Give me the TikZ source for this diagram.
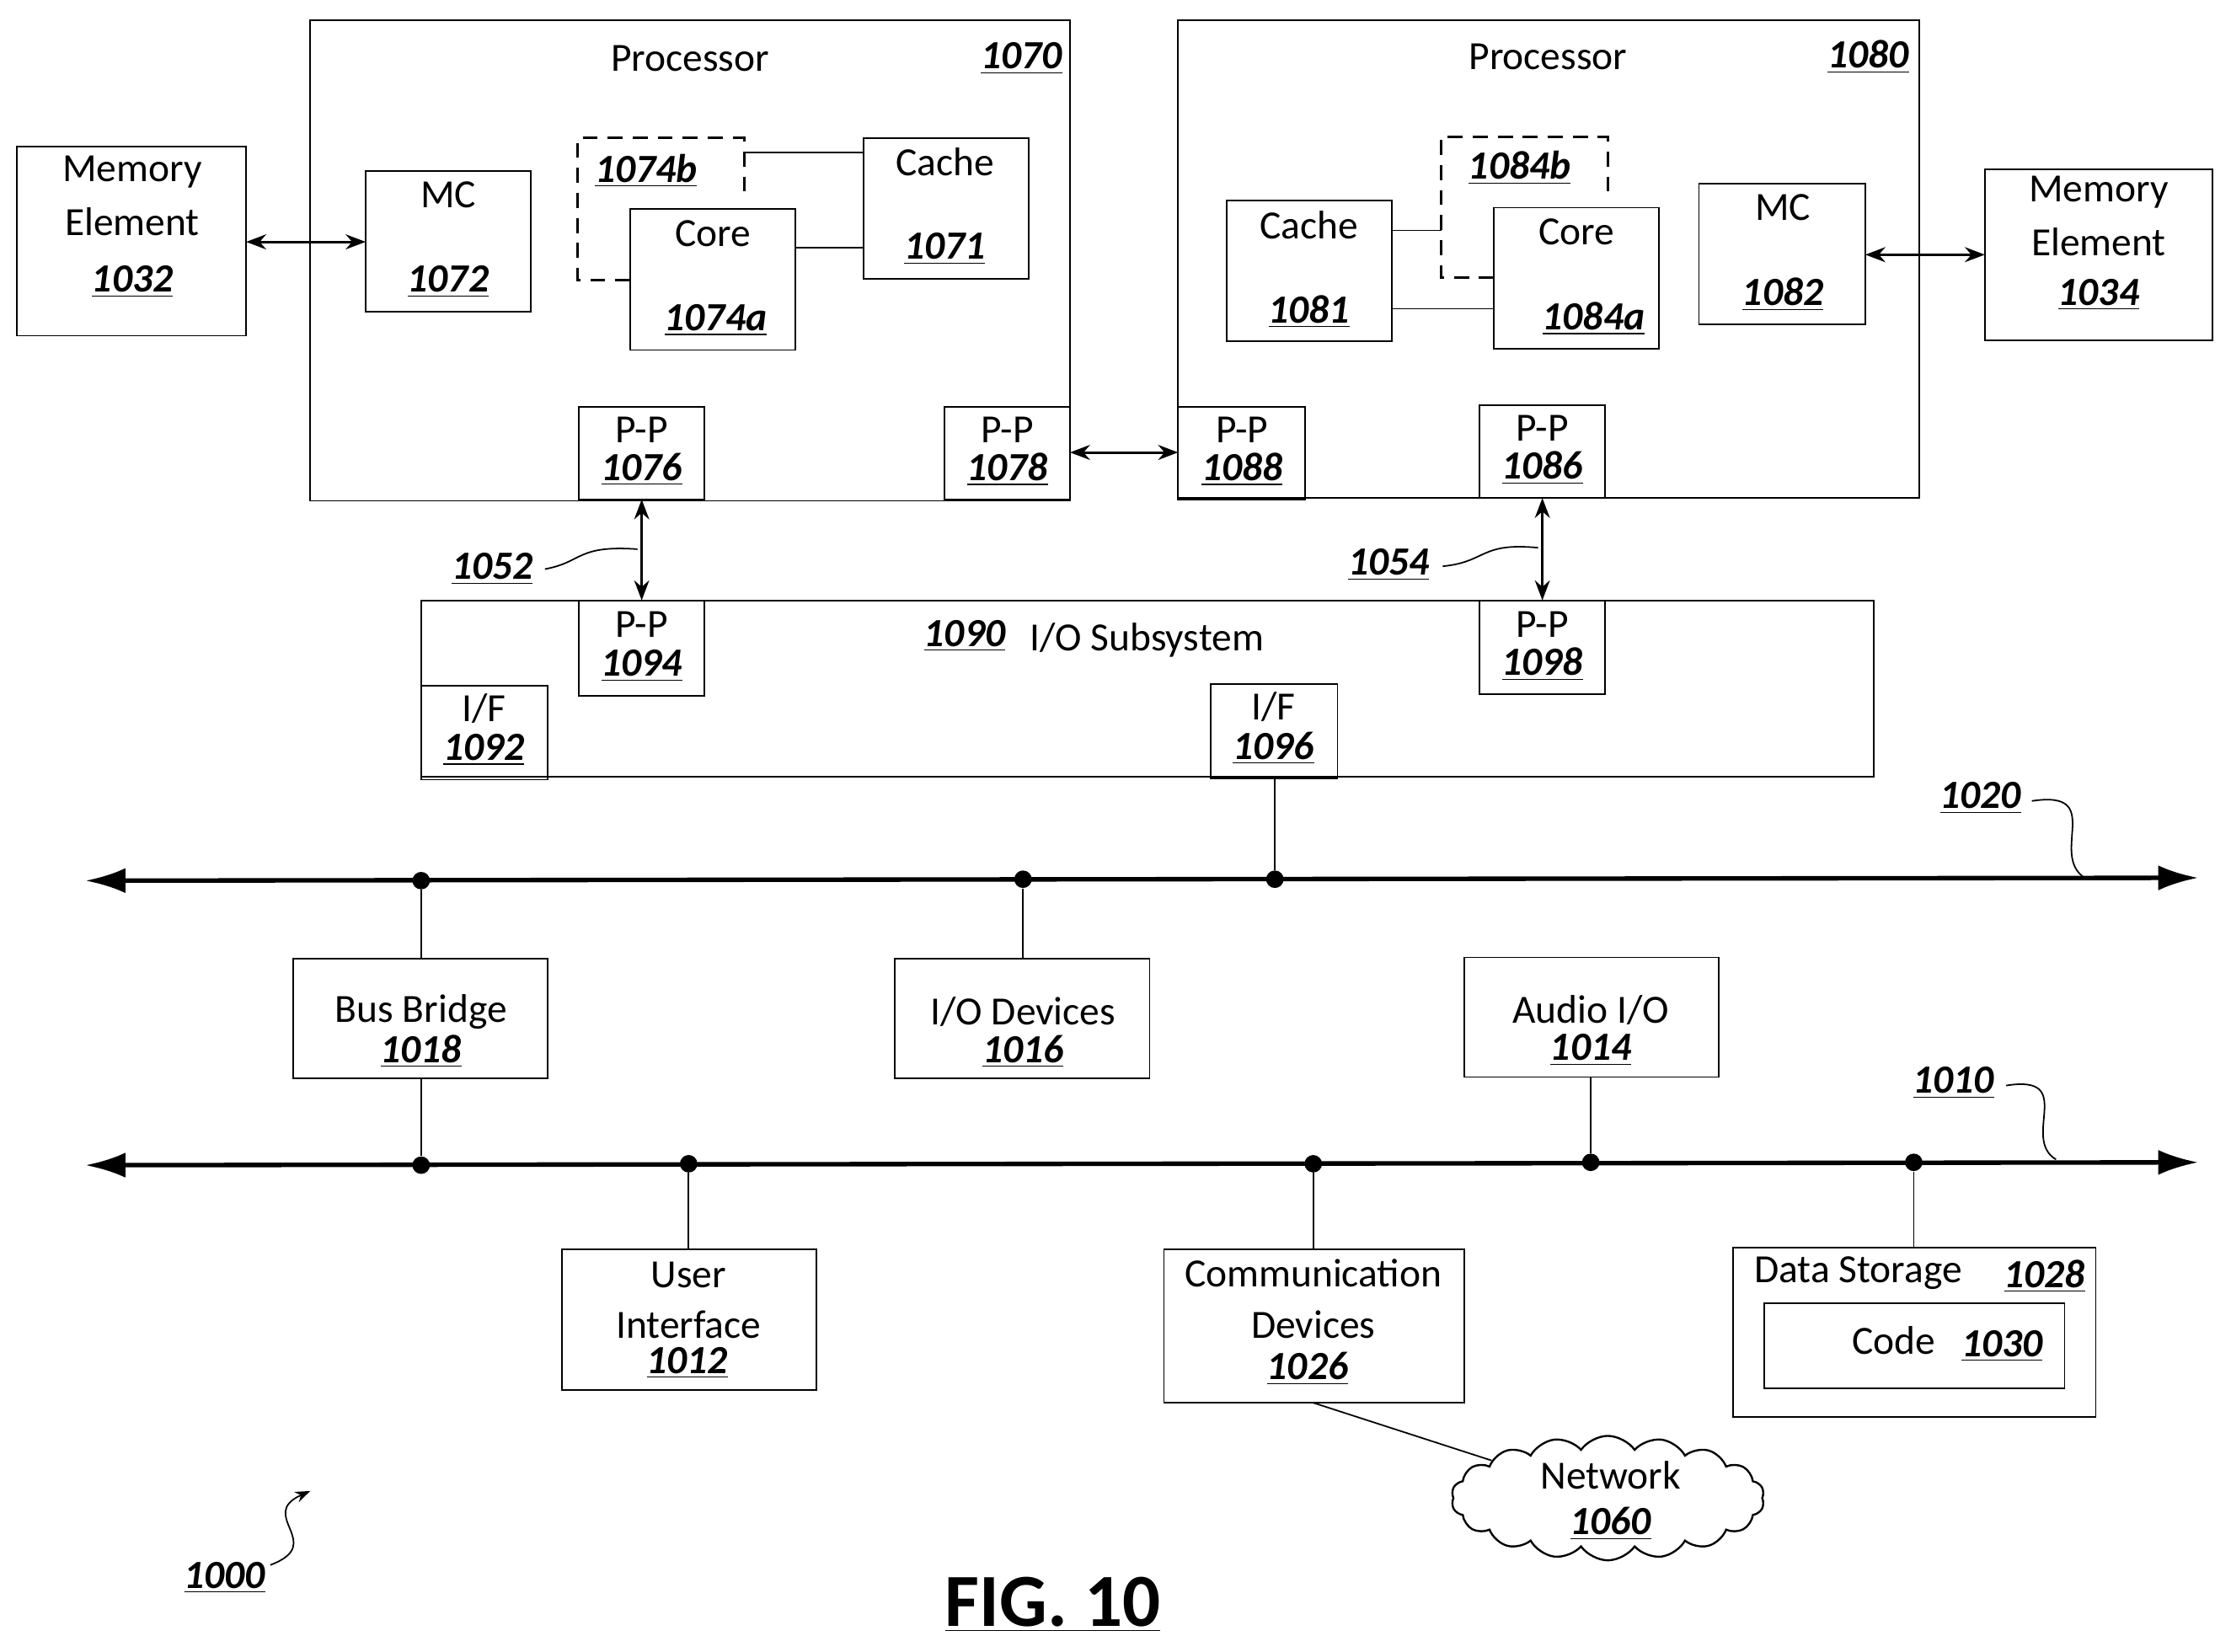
\documentclass[tikz,border=0pt]{standalone}
\usepackage{fontspec}
\setmainfont{Carlito}
\usetikzlibrary{arrows.meta,shapes.symbols}
\newcommand{\lb}[1]{\textbf{\textit{\underline{#1}}}}
\begin{document}
\begin{tikzpicture}[x=0.02cm,y=-0.02cm,
  every node/.style={font=\fontsize{16}{19}\selectfont},
  box/.style={draw,line width=0.6pt},
  t/.style={inner sep=0pt,anchor=center},
  dsh/.style={line width=1pt,dash pattern=on 6pt off 4pt},
  ln/.style={line width=0.6pt},
  arr/.style={line width=1pt,{Stealth[length=8pt]}-{Stealth[length=8pt]}},
  bus/.style={line width=1.8pt,{Latex[length=16pt,width=10pt]}-{Latex[length=16pt,width=10pt]}},
  dot/.style={circle,fill,inner sep=0pt,minimum size=7pt}]
\useasboundingbox (0,0) rectangle (1568,1161);
% processors
\draw[box] (218,14) rectangle (752,352);
\node[t] at (485,41) {Processor}; \node[t] at (718,41) {\lb{1070}};
\draw[box] (828,14) rectangle (1349,350);
\node[t] at (1088,40) {Processor}; \node[t] at (1313,40) {\lb{1080}};
% memory elements
\draw[box] (12,103) rectangle (173,236);
\node[t] at (93,121) {Memory}; \node[t] at (93,156) {Element}; \node[t] at (93,198) {\lb{1032}};
\draw[box] (1395,119) rectangle (1555,239);
\node[t] at (1475,135) {Memory}; \node[t] at (1475,170) {Element}; \node[t] at (1475,207) {\lb{1034}};
\coordinate (m32r) at (173,170); \coordinate (mc72l) at (257,170);
\coordinate (mc82r) at (1311,179); \coordinate (m34l) at (1395,179);
% left processor internals
\draw[box] (257,120) rectangle (373,219);
\node[t] at (315,137) {MC}; \node[t] at (315,198) {\lb{1072}};
\draw[dsh] (443,197) -- (406,197) -- (406,97) -- (523,97) -- (523,140);
\node[t] at (454,120) {\lb{1074b}};
\draw[box] (443,147) rectangle (559,246);
\node[t] at (501,164) {Core}; \node[t] at (503,225) {\lb{1074a}};
\draw[box] (607,97) rectangle (723,196);
\node[t] at (664,114) {Cache}; \node[t] at (664,175) {\lb{1071}};
\draw[ln] (523,107) -- (607,107); \draw[ln] (559,174) -- (607,174);
\draw[box] (407,286) rectangle (495,351);
\node[t] at (451,302) {P-P}; \node[t] at (451,330) {\lb{1076}};
\draw[box] (664,286) rectangle (752,351);
\node[t] at (708,302) {P-P}; \node[t] at (708,330) {\lb{1078}};
% right processor internals
\draw[box] (862,141) rectangle (978,240);
\node[t] at (920,158) {Cache}; \node[t] at (920,219) {\lb{1081}};
\draw[dsh] (1050,195) -- (1013,195) -- (1013,96) -- (1130,96) -- (1130,138);
\node[t] at (1068,118) {\lb{1084b}};
\draw[box] (1050,146) rectangle (1166,245);
\node[t] at (1108,163) {Core}; \node[t] at (1120,224) {\lb{1084a}};
\draw[ln] (978,162) -- (1013,162); \draw[ln] (978,217) -- (1050,217);
\draw[box] (1194,129) rectangle (1311,228);
\node[t] at (1253,146) {MC}; \node[t] at (1253,207) {\lb{1082}};
\draw[box] (828,286) rectangle (917,351);
\node[t] at (873,302) {P-P}; \node[t] at (873,330) {\lb{1088}};
\draw[box] (1040,285) rectangle (1128,350);
\node[t] at (1084,301) {P-P}; \node[t] at (1084,329) {\lb{1086}};
% arrows
\draw[arr] (m32r) -- (mc72l);
\draw[arr] (mc82r) -- (m34l);
\coordinate (a78) at (752,318); \coordinate (a88) at (828,318);
\draw[arr] (a78) -- (a88);
\coordinate (a76) at (451,351); \coordinate (a94) at (451,422);
\coordinate (a86) at (1084,350); \coordinate (a98) at (1084,422);
\draw[arr] (a76) -- (a94); \draw[arr] (a86) -- (a98);
\node[t] at (346,400) {\lb{1052}};
\draw[ln] (383,400) .. controls (410,395) and (405,383) .. (448,386);
\node[t] at (976,397) {\lb{1054}};
\draw[ln] (1014,398) .. controls (1045,395) and (1040,381) .. (1081,385);
% I/O subsystem
\draw[box] (296,422) rectangle (1317,546);
\node[t] at (678,447) {\lb{1090}}; \node[t] at (806,450) {I/O Subsystem};
\draw[box] (407,422) rectangle (495,489);
\node[t] at (451,439) {P-P}; \node[t] at (451,468) {\lb{1094}};
\draw[box] (1040,422) rectangle (1128,488);
\node[t] at (1084,439) {P-P}; \node[t] at (1084,467) {\lb{1098}};
\draw[box] (296,482) rectangle (385,548);
\node[t] at (340,498) {I/F}; \node[t] at (340,527) {\lb{1092}};
\draw[box] (851,481) rectangle (940,547);
\node[t] at (895,497) {I/F}; \node[t] at (895,526) {\lb{1096}};
% buses
\coordinate (b20l) at (60,619); \coordinate (b20r) at (1545,617);
\draw[bus] (b20l) -- (b20r);
\coordinate (b10l) at (60,819); \coordinate (b10r) at (1545,817);
\draw[bus] (b10l) -- (b10r);
\node[dot] (d1) at (296,619) {}; \node[dot] (d2) at (719,618) {}; \node[dot] (d3) at (896,618) {};
\node[dot] (e1) at (296,819) {}; \node[dot] (e2) at (484,818) {}; \node[dot] (e3) at (923,818) {};
\node[dot] (e4) at (1118,817) {}; \node[dot] (e5) at (1345,817) {};
\draw[ln] (896,547) -- (d3);
\node[t] at (1392,561) {\lb{1020}};
\draw[ln] (1428,563) .. controls (1480,555) and (1440,600) .. (1465,617);
\node[t] at (1373,761) {\lb{1010}};
\draw[ln] (1410,763) .. controls (1460,755) and (1420,800) .. (1445,815);
% boxes between buses
\draw[box] (206,674) rectangle (385,758);
\node[t] at (296,711) {Bus Bridge}; \node[t] at (296,739) {\lb{1018}};
\draw[box] (629,674) rectangle (808,758);
\node[t] at (719,711) {I/O Devices}; \node[t] at (719,739) {\lb{1016}};
\draw[box] (1029,673) rectangle (1208,757);
\node[t] at (1118,710) {Audio I/O}; \node[t] at (1118,738) {\lb{1014}};
\draw[ln] (d1) -- (296,674); \draw[ln] (296,758) -- (e1);
\draw[ln] (d2) -- (719,674); \draw[ln] (1118,757) -- (e4);
% lower boxes
\draw[box] (395,878) rectangle (574,977);
\node[t] at (484,896) {User}; \node[t] at (484,931) {Interface}; \node[t] at (483,958) {\lb{1012}};
\draw[ln] (e2) -- (484,878);
\draw[box] (818,878) rectangle (1029,986);
\node[t] at (923,895) {Communication}; \node[t] at (923,931) {Devices}; \node[t] at (919,962) {\lb{1026}};
\draw[ln] (e3) -- (923,878);
\draw[box] (1218,877) rectangle (1473,996);
\node[t] at (1306,895) {Data Storage}; \node[t] at (1437,897) {\lb{1028}};
\draw[box] (1240,916) rectangle (1451,976);
\node[t] at (1331,942) {Code}; \node[t] at (1407,946) {\lb{1030}};
\draw[ln] (e5) -- (1345,877);
% network
\node[cloud,draw,line width=0.8pt,cloud puffs=18,cloud puff arc=110,aspect=2.8,
  inner sep=0pt,minimum width=4.4cm,minimum height=1.75cm] (net) at (1130,1053) {};
\node[t] at (1132,1037) {Network}; \node[t] at (1132,1071) {\lb{1060}};
\coordinate (c26) at (923,986);
\draw[ln] (c26) -- (net);
% figure label
\node[t] at (158,1109) {\lb{1000}};
\draw[ln,-{Stealth[length=6pt]}] (190,1100) .. controls (230,1085) and (180,1065) .. (218,1048);
\node[t,font=\fontsize{30}{34}\selectfont\bfseries] at (740,1128) {\underline{FIG. 10}};
\end{tikzpicture}
\end{document}
